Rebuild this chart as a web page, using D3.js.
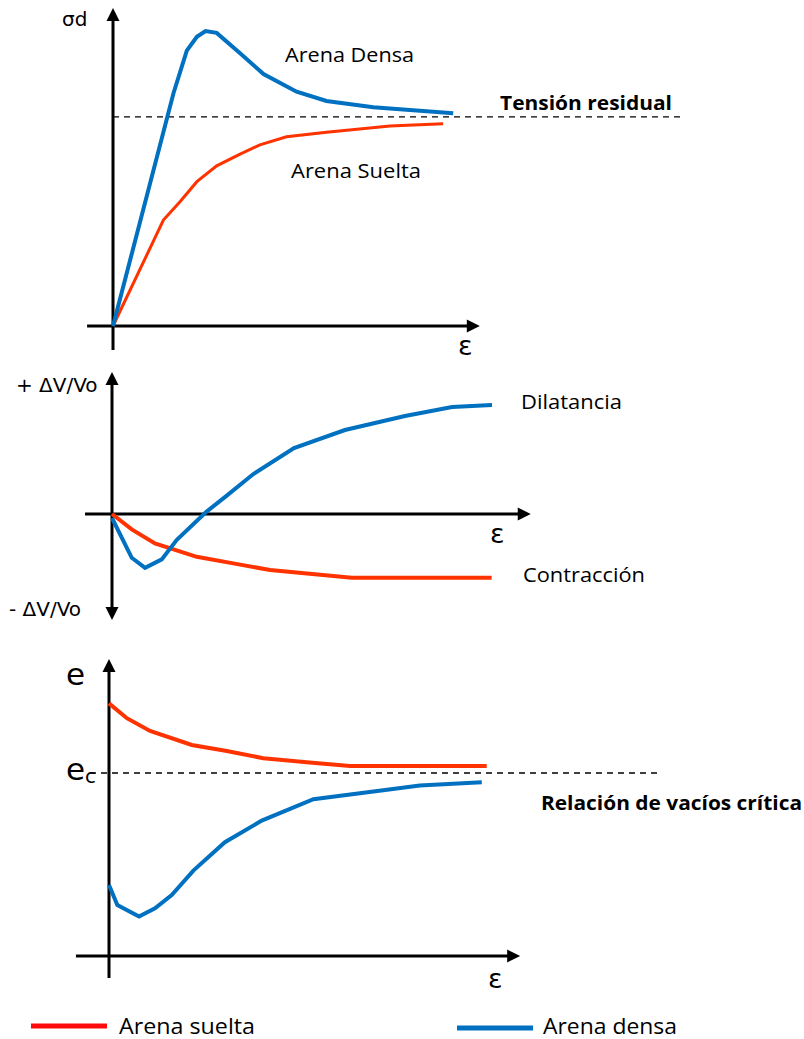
<!DOCTYPE html>
<html>
<head>
<meta charset="utf-8">
<script src="https://cdn.jsdelivr.net/npm/d3@7"></script>
<style>
  html, body { margin: 0; padding: 0; background: #fff; }
  svg { display: block; }
  .sym { font-family: "DejaVu Sans", Verdana, sans-serif; fill: #000; }
  .lbl { font-family: "Open Sans", "Noto Sans", sans-serif; fill: #000; }
</style>
</head>
<body>
<script>
// ---- Panel 1: deviator stress vs axial strain ----
const strainDense1 = [0, 1.68, 2.05, 2.33, 2.57, 2.88, 3.53, 4.18, 5.10, 5.93, 7.23, 9.45];
const stressDense  = [0, 7.76, 9.18, 9.64, 9.83, 9.77, 9.09, 8.40, 7.81, 7.50, 7.29, 7.09];
const strainLoose1 = [0, 1.40, 1.86, 2.33, 2.88, 3.53, 4.08, 4.82, 5.93, 7.69, 9.17];
const stressLoose  = [0, 3.53, 4.14, 4.81, 5.34, 5.73, 6.04, 6.31, 6.46, 6.67, 6.74];
const residualStress = 6.97;

// ---- Panel 2: volumetric strain vs axial strain ----
const strainDense2 = [0, 0.52, 0.87, 1.31, 1.70, 2.49, 3.02, 3.72, 4.79, 6.13, 7.71, 8.95, 10.0];
const volDense     = [-0.2, -2.19, -2.69, -2.27, -1.30, 0.12, 0.92, 2.00, 3.30, 4.20, 4.90, 5.35, 5.45];
const strainLoose2 = [0, 0.52, 1.13, 2.23, 3.19, 4.16, 6.31, 9.99];
const volLoose     = [0, -0.77, -1.47, -2.14, -2.47, -2.80, -3.19, -3.19];

// ---- Panel 3: void ratio vs axial strain ----
const strainLoose3 = [0, 0.47, 1.08, 2.18, 3.10, 4.06, 5.20, 6.34, 9.94];
const voidLoose    = [12.63, 11.89, 11.25, 10.55, 10.25, 9.89, 9.69, 9.50, 9.50];
const strainDense3 = [0, 0.22, 0.79, 1.21, 1.65, 2.22, 3.05, 4.02, 5.38, 6.96, 8.18, 9.81];
const voidDense    = [3.55, 2.55, 1.97, 2.39, 3.05, 4.27, 5.69, 6.77, 7.84, 8.22, 8.52, 8.69];
const criticalVoid = 9.15;

const legendLabels = ["Arena suelta", "Arena densa"];

const BLUE = "#0070c0";
const RED = "#ff3300";
const LEG_RED = "#ff0a0a";

const svg = d3.select("body").append("svg")
  .attr("width", 804).attr("height", 1039);

const zip = (xs, ys) => xs.map((x, i) => [x, ys[i]]);

// filled triangular arrowhead whose tip sits at (x, y), pointing along angle (deg)
function arrowHead(g, x, y, angle) {
  g.append("path")
    .attr("d", "M0,0 L-13,-6.5 L-13,6.5 Z")
    .attr("transform", `translate(${x},${y}) rotate(${angle})`)
    .attr("fill", "#000");
}

function drawAxes(g, x, y, xr, yr, doubleY) {
  // horizontal axis along y = 0
  g.append("line")
    .attr("x1", x(xr[0])).attr("x2", x(xr[1]) - 10)
    .attr("y1", y(0)).attr("y2", y(0))
    .attr("stroke", "#000").attr("stroke-width", 3);
  arrowHead(g, x(xr[1]), y(0), 0);
  // vertical axis along x = 0
  g.append("line")
    .attr("x1", x(0)).attr("x2", x(0))
    .attr("y1", y(yr[0]) - (doubleY ? 10 : 0)).attr("y2", y(yr[1]) + 10)
    .attr("stroke", "#000").attr("stroke-width", 3);
  arrowHead(g, x(0), y(yr[1]), -90);
  if (doubleY) arrowHead(g, x(0), y(yr[0]), 90);
}

function drawCurve(g, x, y, pts, color, width) {
  g.append("path")
    .datum(pts)
    .attr("d", d3.line().x(d => x(d[0])).y(d => y(d[1])))
    .attr("fill", "none")
    .attr("stroke", color)
    .attr("stroke-width", width)
    .attr("stroke-linejoin", "miter");
}

// text label stretched to a fixed run length
function label(g, txt, x, y, size, len, bold) {
  return g.append("text").attr("class", "lbl")
    .attr("x", x).attr("y", y)
    .attr("font-size", size)
    .attr("font-weight", bold ? "bold" : null)
    .attr("textLength", len)
    .attr("lengthAdjust", "spacingAndGlyphs")
    .text(txt);
}

// ===== Panel 1 =====
{
  const g = svg.append("g");
  const x = d3.scaleLinear().domain([0, 10]).range([113, 473]);
  const y = d3.scaleLinear().domain([0, 10]).range([326, 26]);

  g.append("line")
    .attr("x1", x(0)).attr("x2", 680)
    .attr("y1", y(residualStress)).attr("y2", y(residualStress))
    .attr("stroke", "#000").attr("stroke-width", 1.3)
    .attr("stroke-dasharray", "6,5");

  drawAxes(g, x, y, [-0.72, 10.19], [-0.8, 10.6], false);
  drawCurve(g, x, y, zip(strainLoose1, stressLoose), RED, 3);
  drawCurve(g, x, y, zip(strainDense1, stressDense), BLUE, 4);

  g.append("text").attr("class", "sym").attr("x", 62).attr("y", 26)
    .attr("font-size", 20).text("σd");
  g.append("text").attr("class", "sym").attr("x", 458).attr("y", 355)
    .attr("font-size", 27).text("ε");
  label(g, "Arena Densa", 285, 62, 20, 129, false);
  label(g, "Arena Suelta", 291, 178, 20, 130, false);
  label(g, "Tensión residual", 500, 110, 20, 172, true);
}

// ===== Panel 2 =====
{
  const g = svg.append("g");
  const x = d3.scaleLinear().domain([0, 10]).range([112, 492]);
  const y = d3.scaleLinear().domain([0, 5]).range([514, 414]);

  drawAxes(g, x, y, [-0.71, 11.02], [-5.3, 7.1], true);
  drawCurve(g, x, y, zip(strainLoose2, volLoose), RED, 4);
  drawCurve(g, x, y, zip(strainDense2, volDense), BLUE, 4);

  g.append("text").attr("class", "sym").attr("x", 16).attr("y", 392)
    .attr("font-size", 20).text("+ ΔV/Vo");
  g.append("text").attr("class", "sym").attr("x", 9).attr("y", 616)
    .attr("font-size", 20).text("- ΔV/Vo");
  g.append("text").attr("class", "sym").attr("x", 490).attr("y", 543)
    .attr("font-size", 27).text("ε");
  label(g, "Dilatancia", 521, 409, 20, 101, false);
  label(g, "Contracción", 523, 582, 20, 122, false);
}

// ===== Panel 3 =====
{
  const g = svg.append("g");
  const x = d3.scaleLinear().domain([0, 10]).range([109, 489]);
  const y = d3.scaleLinear().domain([0, 10]).range([956, 756]);

  g.append("line")
    .attr("x1", 90).attr("x2", 660)
    .attr("y1", y(criticalVoid)).attr("y2", y(criticalVoid))
    .attr("stroke", "#000").attr("stroke-width", 1.3)
    .attr("stroke-dasharray", "6,5");

  drawAxes(g, x, y, [-0.87, 10.82], [-1.1, 14.85], false);
  drawCurve(g, x, y, zip(strainLoose3, voidLoose), RED, 4);
  drawCurve(g, x, y, zip(strainDense3, voidDense), BLUE, 4);

  g.append("text").attr("class", "sym").attr("x", 66).attr("y", 685)
    .attr("font-size", 31).text("e");
  const ec = g.append("text").attr("class", "sym").attr("x", 66).attr("y", 780)
    .attr("font-size", 31);
  ec.append("tspan").text("e");
  ec.append("tspan").attr("font-size", 20).attr("dy", 3).text("c");
  g.append("text").attr("class", "sym").attr("x", 488).attr("y", 988)
    .attr("font-size", 27).text("ε");
  label(g, "Relación de vacíos crítica", 541, 810, 20, 261, true);
}

// ===== Legend =====
{
  const g = svg.append("g");
  const items = [
    { label: legendLabels[0], color: LEG_RED, x0: 31, y0: 1026, tx: 119, len: 136 },
    { label: legendLabels[1], color: BLUE, x0: 457, y0: 1028, tx: 543, len: 134 }
  ];
  items.forEach(it => {
    g.append("line")
      .attr("x1", it.x0).attr("x2", it.x0 + 76)
      .attr("y1", it.y0).attr("y2", it.y0)
      .attr("stroke", it.color).attr("stroke-width", 5);
    label(g, it.label, it.tx, 1034, 21, it.len, false);
  });
}
</script>
</body>
</html>
